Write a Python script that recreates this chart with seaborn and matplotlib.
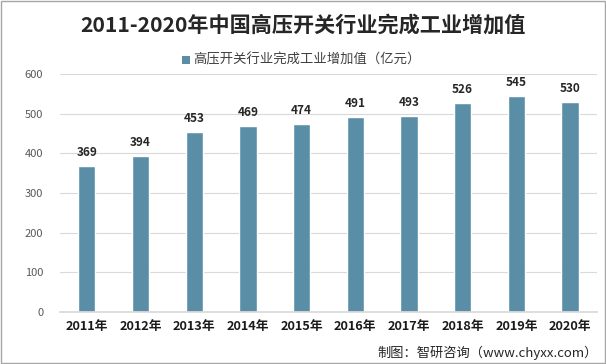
import matplotlib
matplotlib.use("Agg")
import matplotlib.pyplot as plt
import seaborn as sns
import pandas as pd
from matplotlib.patches import Rectangle

years = ["2011年", "2012年", "2013年", "2014年", "2015年", "2016年", "2017年", "2018年", "2019年", "2020年"]
values = [369, 394, 453, 469, 474, 491, 493, 526, 545, 530]
series_name = "高压开关行业完成工业增加值（亿元）"
title = "2011-2020年中国高压开关行业完成工业增加值"
source = "制图：智研咨询（www.chyxx.com）"
yticks = [0, 100, 200, 300, 400, 500, 600]

sns.set_theme(style="white")
plt.rcParams['font.family'] = ['Noto Sans CJK SC', 'DejaVu Sans']

df = pd.DataFrame({"year": years, "value": values})
bar_color = "#5a8ea6"

fig = plt.figure(figsize=(6.06, 3.64), dpi=100)
ax = fig.add_axes([0.099, 0.143, 0.886, 0.654])
sns.barplot(data=df, x="year", y="value", color=bar_color, width=0.32, ax=ax, saturation=1)

ax.set_ylim(0, 600)
ax.set_yticks(yticks)
ax.set_xlim(-0.5, len(years) - 0.5)
ax.yaxis.grid(True, color="#d9d9d9", linewidth=0.8)
ax.set_axisbelow(True)
for s in ["top", "right", "left"]:
    ax.spines[s].set_visible(False)
ax.spines["bottom"].set_color("#d9d9d9")
ax.set_xlabel("")
ax.set_ylabel("")
ax.tick_params(axis="y", length=0, labelsize=8, labelcolor="#595959", pad=12)
ax.tick_params(axis="x", length=0, labelsize=9.2, labelcolor="#1a1a1a", pad=6)
for lab in ax.get_xticklabels():
    lab.set_fontweight("bold")

for i, v in enumerate(values):
    ax.annotate(str(v), (i, v), xytext=(0, 5), textcoords="offset points",
                ha="center", va="bottom", fontsize=8.5, fontweight="bold", color="#262626")

fig.text(0.5, 0.93, title, ha="center", va="center", fontsize=15.2, fontweight="bold", color="#262626")
fig.add_artist(Rectangle((0.300, 0.825), 0.013, 0.022, transform=fig.transFigure, color=bar_color, lw=0))
fig.text(0.318, 0.836, series_name, ha="left", va="center", fontsize=9.6, color="#404040")
fig.text(0.986, 0.03, source, ha="right", va="center", fontsize=9.5, color="#262626")

fig.add_artist(Rectangle((0.001, 0.002), 0.997, 0.995, transform=fig.transFigure, fill=False, edgecolor="#a6a6a6", lw=1))

fig.savefig("out.png", dpi=100)
